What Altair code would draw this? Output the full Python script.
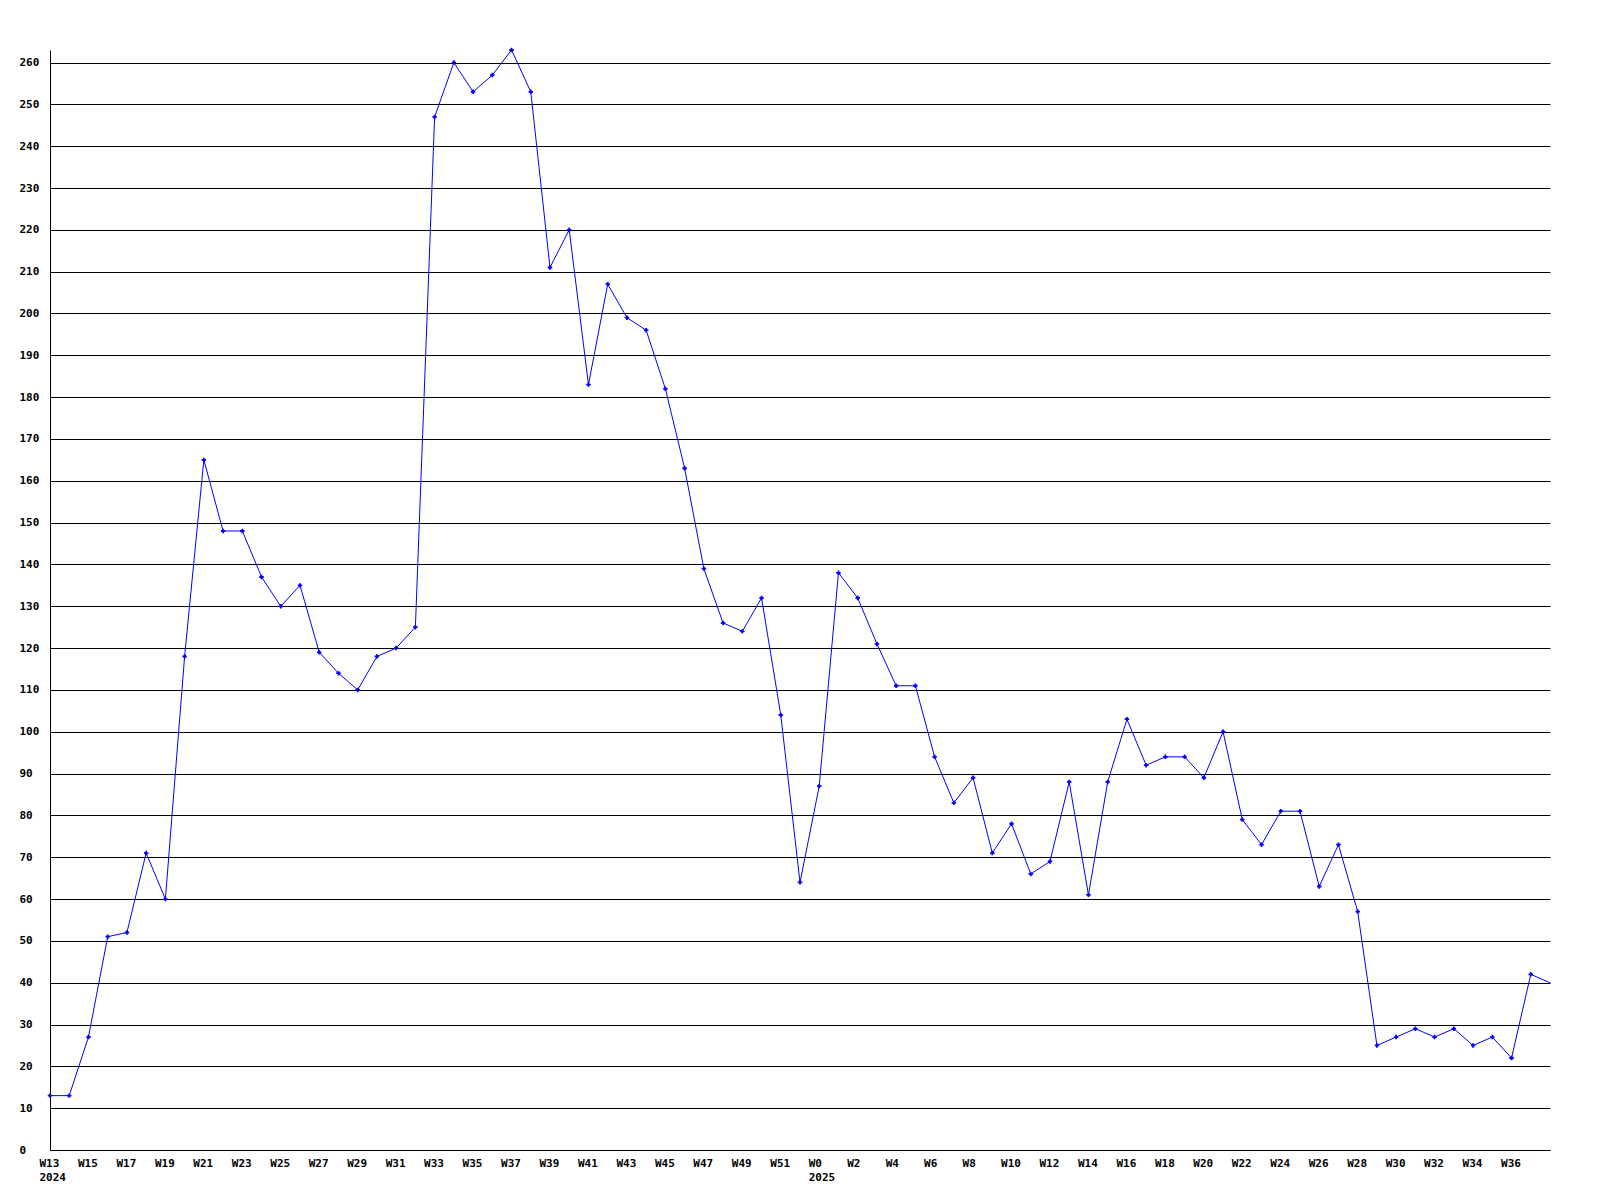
import json
import altair as alt
import pandas as pd

weeks_2024 = [f"W{w}" for w in range(13, 53)]
weeks_2025 = [f"W{w}" for w in range(0, 39)]

values_2024 = [13, 13, 27, 51, 52, 71, 60, 118, 165, 148,
               148, 137, 130, 135, 119, 114, 110, 118, 120, 125,
               247, 260, 253, 257, 263, 253, 211, 220, 183, 207,
               199, 196, 182, 163, 139, 126, 124, 132, 104, 64]
values_2025 = [87, 138, 132, 121, 111, 111, 94, 83, 89, 71,
               78, 66, 69, 88, 61, 88, 103, 92, 94, 94,
               89, 100, 79, 73, 81, 81, 63, 73, 57, 25,
               27, 29, 27, 29, 25, 27, 22, 42, 40]

weeks = weeks_2024 + weeks_2025
values = values_2024 + values_2025
years = ["2024"] * len(weeks_2024) + ["2025"] * len(weeks_2025)

df = pd.DataFrame({"idx": list(range(len(weeks))), "week": weeks,
                   "value": values, "year": years})

# tick labels: every other week, year under the first week of each year
labels = []
for i, (w, y) in enumerate(zip(weeks, years)):
    if i == 0 or years[i - 1] != y:
        labels.append([w, y])
    else:
        labels.append(w)
tick_vals = list(range(0, len(weeks) - 1, 2))
label_expr = json.dumps(labels) + "[datum.value]"

FONT = "DejaVu Sans Mono"

x = alt.X("idx:Q", scale=alt.Scale(domain=[0, len(weeks) - 1], nice=False, zero=False),
          axis=alt.Axis(values=tick_vals, labelExpr=label_expr, title=None, grid=False,
                        ticks=False, tickSize=0, labelAlign="left", labelOffset=-11,
                        labelPadding=7, labelLineHeight=14, labelFont=FONT,
                        labelFontSize=11, labelFontWeight="bold", labelColor="black",
                        domainColor="black", domainWidth=1, labelOverlap=False,
                        labelBound=False, labelFlush=False))
y = alt.Y("value:Q", scale=alt.Scale(domain=[0, 263], nice=False),
          axis=alt.Axis(values=list(range(0, 261, 10)), title=None, grid=True,
                        gridColor="black", gridOpacity=1, gridWidth=1,
                        ticks=False, tickSize=0, labelAlign="left", labelPadding=31,
                        labelFont=FONT, labelFontSize=11, labelFontWeight="bold",
                        labelColor="black", domainColor="black", domainWidth=1,
                        labelOverlap=False, labelBound=False))

line = alt.Chart(df).mark_line(color="#0000ff", strokeWidth=1).encode(x=x, y=y)
pts = alt.Chart(df).transform_filter(
    alt.datum.idx < len(weeks) - 1
).mark_point(shape="cross", filled=True, size=20, color="#0000ff", opacity=1,
             strokeWidth=0).encode(x=x, y=y)

chart = (line + pts).properties(
    width=1500, height=1100,
    autosize=alt.AutoSizeParams(type="none"),
    padding={"left": 42, "top": 42, "right": 40, "bottom": 40},
    background="white",
).configure_view(stroke=None, strokeWidth=0)

chart.save("out.html", embed_options={"renderer": "svg", "actions": False})
